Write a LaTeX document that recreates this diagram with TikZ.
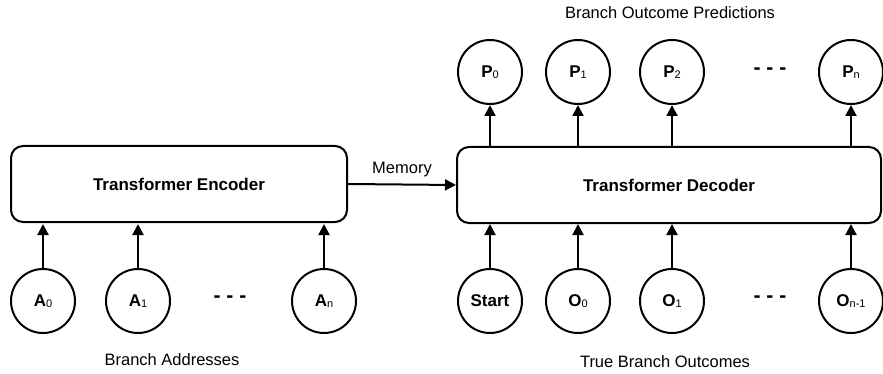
\documentclass[tikz,border=0pt]{standalone}
\usepackage{fontspec}
\setmainfont{Liberation Sans}
\usetikzlibrary{arrows.meta}
\newcommand{\sbs}[1]{{\fontsize{11}{11}\selectfont\mdseries\raisebox{-1.5pt}{#1}}}
\tikzset{
  block/.style={draw, line width=2pt, rounded corners=12pt, font=\bfseries\fontsize{17}{19}\selectfont},
  token/.style={draw, circle, line width=2pt, minimum size=64pt, inner sep=0pt, font=\bfseries\fontsize{17}{19}\selectfont},
  flow/.style={line width=2pt, -{Triangle[length=11pt,width=11pt]}},
  caption/.style={font=\fontsize{16.5}{18}\selectfont},
  gap/.style={font=\bfseries\fontsize{21}{21}\selectfont}
}
\begin{document}
\begin{tikzpicture}[x=1pt,y=-1pt]
\useasboundingbox (0,0) rectangle (883,374);
% encoder and decoder blocks
\node[block, minimum width=336pt, minimum height=76pt] (enc) at (179,184) {Transformer Encoder};
\node[block, minimum width=424pt, minimum height=76pt] (dec) at (669,185) {Transformer Decoder};
% encoder inputs
\node[token] (a0) at (43,301) {A\sbs{0}};
\node[token] (a1) at (138,301) {A\sbs{1}};
\node[gap] (ad) at (230,299) {- - -};
\node[token] (an) at (324,301) {A\sbs{n}};
% decoder inputs
\node[token] (st) at (490,301) {Start};
\node[token] (o0) at (578,301) {O\sbs{0}};
\node[token] (o1) at (672,301) {O\sbs{1}};
\node[gap] (od) at (770,299) {- - -};
\node[token] (on) at (851,301) {O\sbs{n-1}};
% decoder outputs
\node[token] (p0) at (490,72) {P\sbs{0}};
\node[token] (p1) at (578,72) {P\sbs{1}};
\node[token] (p2) at (672,72) {P\sbs{2}};
\node[gap] (pd) at (770,71) {- - -};
\node[token] (pn) at (851,72) {P\sbs{n}};
% captions
\node[caption] (c1) at (172,360) {Branch Addresses};
\node[caption] (c2) at (665,362) {True Branch Outcomes};
\node[caption] (c3) at (670,13) {Branch Outcome Predictions};
% connectors
\foreach \t in {a0,a1,an,st,o0,o1,on} \draw[flow] (\t.north) -- (\t.north |- dec.south);
\foreach \t in {p0,p1,p2,pn} \draw[flow] (\t.south |- dec.north) -- (\t.south);
\draw[flow] (enc.east) -- node[caption, above, yshift=3pt] {Memory} (dec.west);
\end{tikzpicture}
\end{document}
